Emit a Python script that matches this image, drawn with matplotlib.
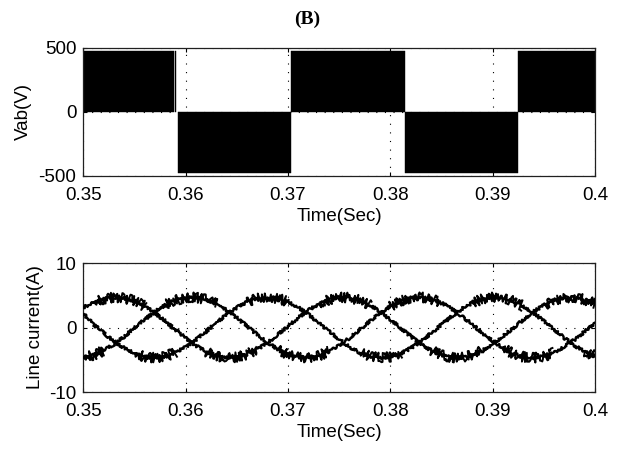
import numpy as np
import matplotlib
matplotlib.use('Agg')
import matplotlib.pyplot as plt

plt.rcParams['font.family'] = ['Liberation Sans', 'DejaVu Sans']
plt.rcParams['lines.scale_dashes'] = False
plt.rcParams['axes.unicode_minus'] = False

#Line-to-line voltage blocks (PWM envelope): start, end (s) and level (V)
vab_start = [0.35000, 0.35897, 0.35922, 0.37030, 0.38143, 0.39250]
vab_end = [0.35886, 0.35905, 0.37030, 0.38143, 0.39250, 0.40000]
vab_level = [480, 480, -475, 480, -475, 480]

#Line currents sampled every 1 ms from 0.35 s to 0.40 s (A)
t_ms = np.arange(51)
ia = [3.10, 3.82, 4.43, 4.69, 4.58, 4.10, 3.30, 2.24, 0.99, -0.33,
      -1.63, -2.80, -3.74, -4.39, -4.68, -4.61, -4.16, -3.39, -2.35, -1.12,
      0.20, 1.50, 2.68, 3.66, 4.33, 4.67, 4.63, 4.23, 3.48, 2.46,
      1.25, -0.07, -1.38, -2.58, -3.57, -4.28, -4.65, -4.65, -4.28, -3.57,
      -2.58, -1.38, -0.07, 1.25, 2.46, 3.48, 4.23, 4.63, 4.67, 4.33, 3.66]
ib = [2.10, 0.47, -0.86, -2.12, -3.20, -4.04, -4.55, -4.70, -4.47, -3.89,
      -3.01, -1.88, -0.60, 0.73, 1.99, 3.10, 3.97, 4.51, 4.70, 4.51,
      3.97, 3.10, 2.00, 0.73, -0.60, -1.88, -3.01, -3.89, -4.47, -4.70,
      -4.55, -4.04, -3.20, -2.12, -0.86, 0.47, 1.75, 2.90, 3.82, 4.43,
      4.69, 4.58, 4.10, 3.30, 2.24, 0.99, -0.33, -1.63, -2.80, -3.74, -4.39]
ic = [-4.65, -4.28, -3.57, -2.58, -1.38, -0.07, 1.25, 2.46, 3.48, 4.23,
      4.63, 4.67, 4.33, 3.66, 2.69, 1.50, 0.20, -1.12, -2.35, -3.39,
      -4.16, -4.61, -4.68, -4.39, -3.74, -2.80, -1.63, -0.33, 0.99, 2.24,
      3.30, 4.10, 4.58, 4.69, 4.43, 3.82, 2.90, 1.75, 0.47, -0.86,
      -2.12, -3.21, -4.04, -4.55, -4.70, -4.47, -3.90, -3.00, -1.88, -0.60, 0.73]

xticks = [0.35, 0.36, 0.37, 0.38, 0.39, 0.4]
xticklabels = ['0.35', '0.36', '0.37', '0.38', '0.39', '0.4']
fs = 13.5

fig = plt.figure(figsize=(6.22, 4.57), dpi=100)
ax1 = fig.add_axes([0.134, 0.6149, 0.8227, 0.2801])
ax2 = fig.add_axes([0.134, 0.1422, 0.8227, 0.2823])

def style(ax, yticks):
 ax.set_xlim(0.35, 0.4)
 ax.set_xticks(xticks)
 ax.set_xticklabels(xticklabels)
 ax.set_yticks(yticks)
 ax.set_ylim(yticks[0], yticks[-1])
 ax.grid(True, color='black', linestyle=(0, (0.8, 5.4)), linewidth=0.8)
 ax.set_axisbelow(True)
 ax.tick_params(direction='in', top=True, right=True, length=3, width=0.8,
                labelsize=fs, pad=5)
 ax.tick_params(axis='x', pad=8)
 for s in ax.spines.values():
  s.set_linewidth(0.9)
  s.set_color('#202020')
 ax.set_xlabel('Time(Sec)', fontsize=fs, labelpad=3)

#Top: Vab
w = np.array(vab_end) - np.array(vab_start)
ax1.bar(vab_start, vab_level, width=w, align='edge', color='black',
        edgecolor='black', linewidth=0.3, zorder=2)
style(ax1, [-500, 0, 500])
ax1.set_ylabel('Vab(V)', fontsize=fs, labelpad=5)

#Bottom: line currents, switching ripple strongest around the peaks
t = 0.35 + t_ms/1000.0
for i in [ia, ib, ic]:
 i = np.array(i)
 ln, = ax2.plot(t, i, color='black', linewidth=1.7, zorder=3)
 ln.set_sketch_params(scale=1.4, length=1.0, randomness=3)
 peak = np.where(np.abs(i) > 3.2, i, np.nan)
 lp, = ax2.plot(t, peak, color='black', linewidth=1.4, zorder=3)
 lp.set_sketch_params(scale=5.0, length=0.7, randomness=3)
style(ax2, [-10, 0, 10])
ax2.set_ylabel('Line current(A)', fontsize=fs, labelpad=4)

fig.text(0.494, 0.958, '(B)', ha='center', va='center', fontsize=14,
         fontweight='bold', family='Liberation Serif')

fig.savefig('out.png', dpi=100)
